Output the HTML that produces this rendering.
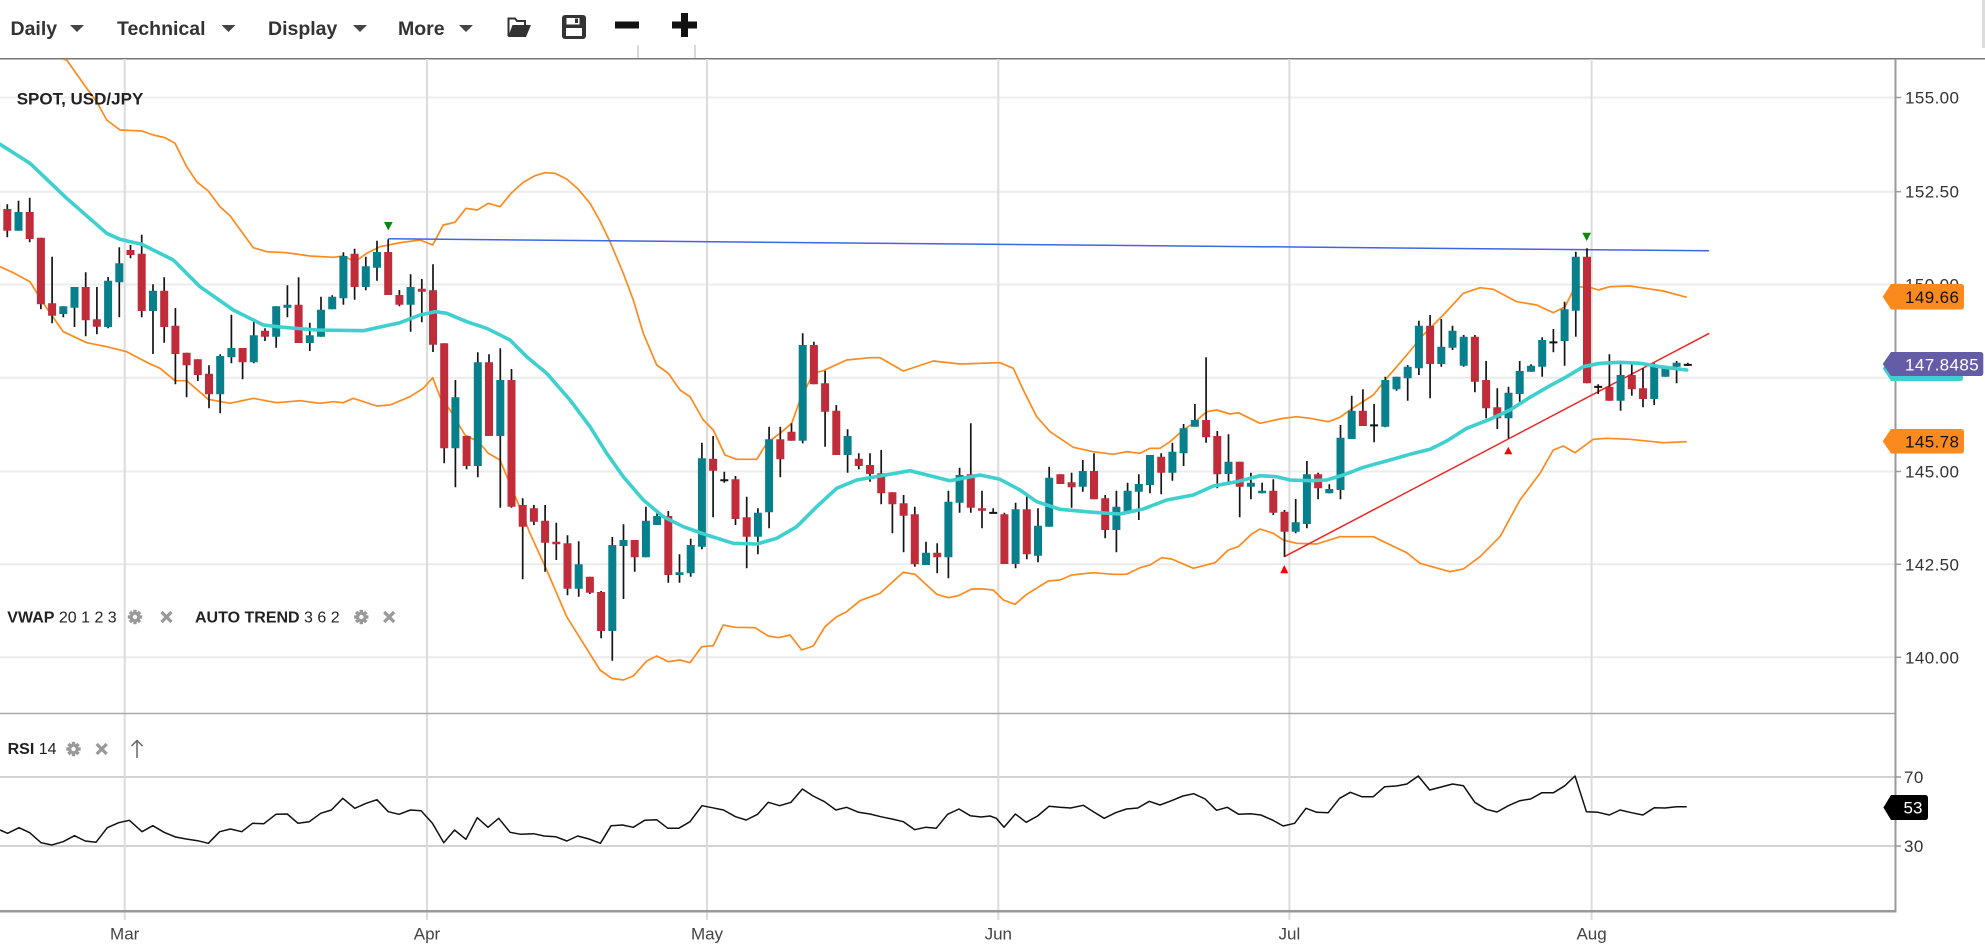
<!DOCTYPE html>
<html>
<head>
<meta charset="utf-8">
<style>
html,body{margin:0;padding:0;background:#fff;}
body{width:1985px;height:949px;overflow:hidden;}
svg{display:block;font-family:"Liberation Sans",Arial,sans-serif;}
</style>
</head>
<body>
<svg width="1985" height="949" viewBox="0 0 1985 949" xmlns="http://www.w3.org/2000/svg">
<defs>
<clipPath id="cm"><rect x="0" y="59" width="1895" height="654"/></clipPath>
<clipPath id="cr"><rect x="0" y="714" width="1895" height="197"/></clipPath>
<g id="gear">
<circle r="5.2" fill="#999"/>
<rect x="-1.7" y="-7.2" width="3.4" height="14.4" fill="#999"/>
<rect x="-1.7" y="-7.2" width="3.4" height="14.4" fill="#999" transform="rotate(45)"/>
<rect x="-1.7" y="-7.2" width="3.4" height="14.4" fill="#999" transform="rotate(90)"/>
<rect x="-1.7" y="-7.2" width="3.4" height="14.4" fill="#999" transform="rotate(135)"/>
<circle r="2.2" fill="#fff"/>
</g>
<g id="xx"><path d="M-5,-5L5,5M5,-5L-5,5" stroke="#999" stroke-width="3.2"/></g>
</defs>

<!-- toolbar -->
<g font-weight="bold" font-size="19.5" fill="#333">
<text x="10.5" y="35">Daily</text>
<text x="117" y="35">Technical</text>
<text x="268" y="35">Display</text>
<text x="398" y="35">More</text>
</g>
<g fill="#444">
<polygon points="70,25 84,25 77,32"/>
<polygon points="221.5,25 235.5,25 228.5,32"/>
<polygon points="353,25 367,25 360,32"/>
<polygon points="459,25 473,25 466,32"/>
</g>
<!-- folder -->
<path d="M508.5,36 V18.5 h6.5 l2,2.5 h8 v4" fill="none" stroke="#333" stroke-width="2"/>
<polygon points="512.5,25 531,25 526,37 508,37" fill="#333"/>
<!-- save -->
<rect x="562" y="15" width="24" height="24" rx="3" fill="#333"/>
<rect x="566.5" y="18" width="13" height="6.5" fill="#fff"/>
<rect x="575" y="18.5" width="3" height="4.5" fill="#333"/>
<rect x="566" y="28" width="16" height="8" fill="#fff"/>
<!-- minus / plus -->
<rect x="615" y="21.5" width="24" height="7" fill="#111"/>
<rect x="672" y="21.5" width="25" height="7" fill="#111"/>
<rect x="681" y="13" width="7" height="24" fill="#111"/>
<path d="M638,45V58M695,45V58" stroke="#ccc" stroke-width="1.5"/>
<rect x="1982" y="0" width="3" height="48" fill="#ddd"/>

<!-- frame -->
<line x1="0" y1="58.8" x2="1985" y2="58.8" stroke="#777" stroke-width="1.5"/>

<!-- horizontal grid main -->
<g stroke="#ececec" stroke-width="2">
<line x1="0" y1="97.5" x2="1895" y2="97.5"/>
<line x1="0" y1="191.7" x2="1895" y2="191.7"/>
<line x1="0" y1="284.5" x2="1895" y2="284.5"/>
<line x1="0" y1="377.7" x2="1895" y2="377.7"/>
<line x1="0" y1="471.5" x2="1895" y2="471.5"/>
<line x1="0" y1="564.3" x2="1895" y2="564.3"/>
<line x1="0" y1="657.3" x2="1895" y2="657.3"/>
</g>
<!-- RSI grid -->
<g stroke="#d2d2d2" stroke-width="2">
<line x1="0" y1="777" x2="1895" y2="777"/>
<line x1="0" y1="846" x2="1895" y2="846"/>
</g>
<!-- vertical grid -->
<g stroke="#dcdcdc" stroke-width="2">
<line x1="124.7" y1="59" x2="124.7" y2="920"/>
<line x1="427" y1="59" x2="427" y2="920"/>
<line x1="707" y1="59" x2="707" y2="920"/>
<line x1="998.3" y1="59" x2="998.3" y2="920"/>
<line x1="1289.4" y1="59" x2="1289.4" y2="920"/>
<line x1="1591.6" y1="59" x2="1591.6" y2="920"/>
</g>

<!-- main pane series -->
<g clip-path="url(#cm)">
<!-- bollinger upper -->
<polyline fill="none" stroke="#ff8a1c" stroke-width="1.7" stroke-linejoin="round" points="58,45 63,59 66.7,60 86.7,88.3 96.7,101.7 106.7,120 120,130 141.7,131 153.3,135 165,137.7 175,143.3 186.7,166.7 196.7,181.7 208.3,191 220,206.7 230,215.7 253.3,247.7 266.7,251.7 286.7,252.7 310,256 333.3,257.3 343.3,256 355,261.7 366.7,253.3 380,246.7 400,242.7 420,240 432.7,245 443.3,225 455,222.3 466,208.3 477.3,210 488.3,203.3 500,206.7 511.7,192.7 523.3,182.3 535,175.7 545,172.7 555,173.3 566.7,179 578.3,189.3 590,203.3 600,221 610,241.7 623.3,273.3 633.3,300 643.3,333.3 656.7,365 668.3,373.3 680,390 690,396.7 703.3,420 713.3,430 725,455 736.7,459.3 756.7,459.3 766.7,443.3 780,433.3 791.7,423.3 800,400 813.3,373.3 823.3,370.7 846.7,360 870,357.7 880,357.7 903.3,371 933.3,361 960,364 1000,362.7 1013.3,368.3 1023.3,390 1036.7,416.7 1050,431.7 1060,438.3 1073.3,447.3 1093.3,451.7 1113.3,454.3 1126.7,451.7 1140,453.3 1150,448.3 1160,448.3 1170,441.7 1183.3,430 1193.3,423.3 1206.7,411.7 1216.7,410 1230,414 1238.3,412.7 1260,423.3 1283.3,418.3 1296.7,416.7 1310,418.3 1328.3,421.7 1340,417.3 1350,410 1373.3,395 1386.7,378.3 1406.7,355 1423.3,335 1443.3,315 1463.3,293.3 1480,287.7 1493.3,289.3 1516.7,301.7 1536.7,305 1553.3,312.7 1565,306.7 1575,286.7 1590,287.3 1598.3,290 1610,286.7 1630,286 1663.3,291 1686.7,297.3"/>
<!-- bollinger lower -->
<polyline fill="none" stroke="#ff8a1c" stroke-width="1.7" stroke-linejoin="round" points="0,266.7 13.3,272.7 30,281.7 43.3,303.3 63.3,331.7 86.7,342.7 106.7,346.7 126.7,351.7 146.7,362.3 160,368.3 175,380.7 186.7,380.7 208.3,399.3 230,403.3 253.3,398.3 276.7,402.7 300,400.7 320,403.3 333.3,401.7 343.3,402.7 353.3,398.3 376.7,406 390,405 410,396.7 423.3,388.3 432.7,377.7 440,396.7 450,410 465,435 478.3,441.7 488.3,453.3 500,460 516.7,500 530,533.3 546.7,570 566.7,616.7 583.3,643.3 600,670 611.7,678.3 623.3,680 633.3,676 646.7,661 656.7,656 668.3,661.7 680,660 690,662.7 701.7,646.7 713.3,645.7 723.3,625 735,627.3 755,627.7 768.3,636 778.3,637.7 790,635 801.7,650 813.3,646 825,626.7 836.7,616.7 846.7,611.7 860,600.7 880,593.3 903.3,572.3 915,574.3 936.7,594.3 948.3,597.7 958.3,595.7 971.7,589 983.3,589 993.3,590 1003.3,600 1015,604.3 1026.7,594.3 1048.3,581 1060,580 1071.7,575 1093.3,572.7 1113.3,574.3 1126.7,574.3 1140,567.7 1150,565 1161.7,557.7 1171.7,559 1193.3,568.3 1215,562.7 1228.3,550 1238.3,546.7 1251.7,534 1260,529 1273.3,533.3 1283.3,540 1296.7,543.3 1316.7,544 1340,536.7 1373.3,536.7 1406.7,552.7 1420,563.3 1450,571.7 1463.3,569 1480,556.7 1500,536.7 1520,500 1540,473.3 1553.3,450 1563.3,446 1575,452.7 1593.3,439.3 1606.7,438.3 1630,439.3 1663.3,442.7 1686.7,441.7"/>
<!-- trend lines -->
<line x1="388.3" y1="238.8" x2="1709" y2="250.8" stroke="#3f66de" stroke-width="1.5"/>
<line x1="1284.3" y1="556.7" x2="1709.3" y2="333.3" stroke="#ee2424" stroke-width="1.5"/>

<!-- wicks -->
<path fill="none" stroke="#151515" stroke-width="1.7" d="M-3.9 198V215M7.3 204.3V237.3M18.5 200.7V230.7M29.7 197.7V242.3M40.9 237.7V309.3M52.1 256.7V323.3M63.3 306.3V317.3M74.5 287V327M85.7 272.3V336.3M96.9 287V334.3M108.1 277V328.3M119.3 247.3V317.3M130.5 245V258.3M141.7 234.7V317.3M153 284.3V354M164.2 277.3V342.7M175.4 308V384.3M186.6 352.7V397.3M197.8 359.3V381M209 365.3V408.3M220.2 354.3V413.3M231.4 314.7V363.3M242.6 348V379.3M253.8 321V363.3M265 328.3V341M276.2 306.3V347.7M287.4 285.3V317.3M298.6 277.3V343M309.8 322.7V351M321 296.7V336.7M332.2 295.3V309.3M343.4 252.3V304.7M354.6 248.7V299.7M365.8 256.7V290.3M377 240.7V280.7M388.2 239.3V295M399.4 290V306.3M410.6 274.3V331.7M421.8 279V322.3M433 264.3V352M444.2 343.3V463.3M455.4 380V487.3M466.6 436V469.3M477.8 352.3V477.3M489 354.3V436M500.3 348.3V507.7M511.5 369V507.7M522.7 498.3V579.3M533.9 505V525M545.1 505V571.7M556.3 522.7V560M567.5 535.3V595.3M578.7 541.3V596.7M589.9 576.7V594M601.1 591V638.3M612.3 537V660.7M623.5 524.3V599M634.7 540V571.7M645.9 506.7V557.3M657.1 512.7V525M668.3 511V582.7M679.5 554.3V582.7M690.7 538.7V576.7M701.9 442.7V549.3M713.1 436V517.3M724.3 471.7V482.7M735.5 476V525M746.7 496.7V568.3M757.9 508.3V554.3M769.1 426.7V528.3M780.3 426.7V477.3M791.5 423.3V440.7M802.7 333.3V443.3M813.9 341.7V384.3M825.1 370.7V446.7M836.3 405V455M847.6 429.3V472.7M858.8 453.3V469.3M870 453.3V481.7M881.2 450V504.3M892.4 492.3V533.3M903.6 495V552.3M914.8 506.7V566.7M926 541.7V565M937.2 543.3V573.3M948.4 490.7V578.3M959.6 467.7V512.7M970.8 423.3V512.7M982 490.7V528.3M993.2 508.3V513.5M1004.4 512.7V564M1015.6 502.7V568.3M1026.8 495.7V559.3M1038 508.3V562.3M1049.2 466.7V526.7M1060.4 474.3V484M1071.6 472.7V507.7M1082.8 460V491.7M1094 453.3V499.3M1105.2 495V538.3M1116.4 490.7V552.3M1127.6 482.7V511.7M1138.8 474.3V520M1150 455V493.3M1161.2 453.3V494.3M1172.4 442.7V480.7M1183.6 424V466M1194.9 404V426.7M1206.1 357.3V442.7M1217.3 431V488.3M1228.5 434.3V485M1239.7 461.7V517.3M1250.9 472.7V499.3M1262.1 482.7V493.3M1273.3 479.3V515M1284.5 510V556.7M1295.7 499V533.3M1306.9 461V528.3M1318.1 472.7V499.3M1329.3 484.3V493.3M1340.5 425V499.3M1351.7 395.7V439M1362.9 389.3V426M1374.1 404V442.3M1385.3 376.7V427.3M1396.5 376.7V390.7M1407.7 365V400.7M1418.9 320.7V375M1430.1 315V398.3M1441.3 319V366.7M1452.5 325.7V350M1463.7 335V366.7M1474.9 335V392.3M1486.1 361V418.3M1497.3 388.3V429M1508.5 386.7V438.3M1519.7 361V401.7M1531 364.3V371.7M1542.2 337.3V376.7M1553.4 329V352.3M1564.6 301.7V365.7M1575.8 251.7V336.7M1587 248.3V383.3M1598.2 384.3V394M1609.4 354.3V400.7M1620.6 364.3V410.7M1631.8 364.3V395.7M1643 368.3V407.3M1654.2 363.3V405M1665.4 365.7V376.7M1676.6 361V383.3M1687.8 362.7V366"/>

<!-- red bodies -->
<path fill="#c12c3a" d="M-7.9 202h8v10h-8zM3.3 209h8v21.7h-8zM25.7 212h8v27h-8zM36.9 237.7h8v66.6h-8zM48.1 303.3h8v12.4h-8zM81.7 287h8v33.3h-8zM92.9 319.3h8v7.4h-8zM126.5 250h8v5h-8zM137.7 253.7h8v57.3h-8zM160.2 290.7h8v36.3h-8zM171.4 325.7h8v28.3h-8zM182.6 352.7h8v12.6h-8zM193.8 359.3h8v15.7h-8zM205 373.7h8v20.6h-8zM238.6 348h8v14.3h-8zM261 330.7h8v6h-8zM294.6 304.7h8v38.3h-8zM350.6 253.7h8v33.3h-8zM384.2 252h8v43h-8zM395.4 295h8v9.7h-8zM417.8 288.7h8v3h-8zM429 290.3h8v54.4h-8zM440.2 343.3h8v105h-8zM462.6 436h8v30h-8zM485 362.3h8v73.7h-8zM507.5 380h8v126.7h-8zM518.7 505h8v21.7h-8zM529.9 508.3h8v13.4h-8zM541.1 520.7h8v22h-8zM552.3 541.7h8v2.6h-8zM563.5 543.3h8v45.4h-8zM585.9 576.7h8v16h-8zM597.1 592h8v39h-8zM630.7 540h8v17.3h-8zM664.3 516h8v59h-8zM709.1 458.7h8v12h-8zM731.5 479.3h8v39.7h-8zM742.7 517.3h8v19.4h-8zM776.3 439.3h8v20h-8zM787.5 431.7h8v9h-8zM809.9 345h8v39.3h-8zM821.1 383.3h8v28.4h-8zM832.3 410.7h8v44.3h-8zM854.8 458.7h8v7.3h-8zM866 465h8v9h-8zM877.2 473.3h8v20h-8zM888.4 492.3h8v12h-8zM899.6 503.3h8v12.4h-8zM910.8 514.3h8v50h-8zM933.2 552.7h8v4.6h-8zM966.8 474.3h8v33.4h-8zM978 508.3h8v2.4h-8zM1000.4 514.3h8v49.7h-8zM1022.8 509.3h8v45h-8zM1056.4 474.3h8v9.7h-8zM1067.6 482.3h8v5h-8zM1090 471h8v28.3h-8zM1101.2 498.3h8v31.7h-8zM1157.2 456.7h8v16h-8zM1202.1 420h8v17.3h-8zM1213.3 436h8v38.3h-8zM1235.7 461.7h8v25h-8zM1269.3 490.7h8v22h-8zM1280.5 511.7h8v20h-8zM1314.1 474.3h8v14h-8zM1358.9 410.7h8v15.3h-8zM1426.1 325.7h8v38.3h-8zM1470.9 336.7h8v45h-8zM1482.1 380h8v28.3h-8zM1493.3 407.3h8v11h-8zM1583 256.7h8v126.6h-8zM1605.4 386.7h8v14h-8zM1627.8 375h8v14.3h-8zM1639 388.3h8v10.7h-8z"/>
<!-- teal bodies -->
<path fill="#08808c" d="M14.5 212h8v18.7h-8zM59.3 306.3h8v7.7h-8zM70.5 287h8v20.7h-8zM104.1 280.7h8v46.3h-8zM115.3 263.3h8v19h-8zM149 290.7h8v20.3h-8zM216.2 356h8v38.3h-8zM227.4 348h8v9.3h-8zM249.8 335.3h8v27h-8zM272.2 306.3h8v30.4h-8zM283.4 304.7h8v3h-8zM305.8 335.3h8v7.7h-8zM317 309.7h8v27h-8zM328.2 296.7h8v12.6h-8zM339.4 256h8v42.3h-8zM361.8 266.3h8v20.7h-8zM373 252h8v15.7h-8zM406.6 287h8v17.7h-8zM451.4 397.3h8v51h-8zM473.8 362.3h8v103.7h-8zM496.3 380h8v56h-8zM574.7 564.3h8v24.4h-8zM608.3 545h8v86h-8zM619.5 540h8v6h-8zM641.9 520.7h8v36.6h-8zM653.1 516h8v9h-8zM675.5 572.3h8v2.7h-8zM686.7 545h8v28.3h-8zM697.9 458.3h8v88.4h-8zM753.9 512.7h8v24h-8zM765.1 439.3h8v73h-8zM798.7 345h8v95.7h-8zM843.6 436h8v19h-8zM922 552.7h8v12.3h-8zM944.4 501.7h8v55.6h-8zM955.6 475h8v27.7h-8zM1011.6 509.3h8v54.7h-8zM1034 525.7h8v30h-8zM1045.2 477.7h8v49h-8zM1078.8 471h8v15.7h-8zM1112.4 506.7h8v23.3h-8zM1123.6 490.7h8v21h-8zM1134.8 484h8v7.7h-8zM1146 455h8v30h-8zM1168.4 451.7h8v21h-8zM1179.6 428.3h8v25h-8zM1190.9 420h8v6.7h-8zM1224.5 461.7h8v12.3h-8zM1246.9 482.7h8v4h-8zM1258.1 490.7h8v2.6h-8zM1291.7 522.3h8v9.4h-8zM1302.9 474.3h8v49.7h-8zM1325.3 489h8v4.3h-8zM1336.5 437.7h8v52.3h-8zM1347.7 410.7h8v28.3h-8zM1381.3 380h8v46.7h-8zM1392.5 376.7h8v12.6h-8zM1403.7 366.7h8v11.6h-8zM1414.9 325.7h8v42.6h-8zM1437.3 346.7h8v17.3h-8zM1448.5 330.7h8v17h-8zM1459.7 336.7h8v29h-8zM1504.5 392.7h8v25.6h-8zM1515.7 371h8v23h-8zM1527 365.7h8v6h-8zM1538.2 340h8v26.7h-8zM1560.6 309.3h8v31.7h-8zM1571.8 256.7h8v54h-8zM1616.6 375h8v25.7h-8zM1650.2 366.7h8v32.3h-8zM1661.4 368.3h8v8.4h-8zM1672.6 362.7h8v4h-8z"/>
<!-- doji -->
<path fill="#151515" d="M720.3 479.2h8v2h-8zM989.2 511.9h8v2h-8zM1370.1 424.4h8v2h-8zM1549.4 341.4h8v2h-8zM1594.2 385.9h8v2h-8zM1683.8 363.9h8v2h-8z"/>

<!-- moving average -->
<polyline fill="none" stroke="#3ecfcf" stroke-width="3.6" stroke-linejoin="round" stroke-linecap="round" points="0,144.3 30,163.3 66.7,198.3 106.7,233.3 120,239.3 141.7,244.3 163.3,255 173.3,260 200,286.7 233.3,310 263.3,325 283.3,327.3 316.7,330 363.3,330.7 400,322.7 420,315 435,311.7 446.7,313.3 466.7,321.7 486.7,328.3 510,340 526.7,356.7 546.7,373.3 570,400 590,426.7 606.7,453.3 623.3,476.7 643.3,500 663.3,516.7 683.3,526.7 706.7,535 733.3,543.3 756.7,544 776.7,538.3 796.7,526.7 816.7,506.7 836.7,488.3 856.7,480 880,476 910,470.7 950,480.7 980,475 1000,479.3 1020,490 1036.7,501.7 1060,509.3 1093.3,512.3 1120,514 1143.3,509 1166.7,500 1193.3,495 1213.3,486 1236.7,481.7 1260,475.7 1276.7,476.7 1290,480 1310,480.7 1326.7,480 1343.3,475 1363.3,467.3 1390,460 1410,454.3 1430,449.3 1446.7,441 1466.7,428.3 1490,419.3 1510,410 1530,397.3 1550,385.7 1566.7,376.7 1583.3,366.7 1600,363.3 1620,362.3 1640,363.3 1660,366.7 1673.3,368.3 1686.7,370"/>

<!-- markers -->
<polygon points="384,222 392.7,222 388.3,230.5" fill="#0a8a0a"/>
<polygon points="1582.3,232.7 1591,232.7 1586.7,241" fill="#0a8a0a"/>
<polygon points="1280.3,573.3 1288.3,573.3 1284.3,565" fill="#ff0000"/>
<polygon points="1504.3,454.3 1512.3,454.3 1508.3,446.7" fill="#ff0000"/>
</g>

<!-- labels in main pane -->
<text x="16.7" y="104.5" font-size="17" font-weight="bold" fill="#222">SPOT, USD/JPY</text>
<text x="7.3" y="622.5" font-size="16" fill="#222"><tspan font-weight="bold">VWAP</tspan> 20 1 2 3</text>
<use href="#gear" x="135" y="617"/>
<use href="#xx" x="166.5" y="617"/>
<text x="195" y="622.5" font-size="16" fill="#222"><tspan font-weight="bold">AUTO TREND</tspan> 3 6 2</text>
<use href="#gear" x="361.3" y="617"/>
<use href="#xx" x="389.2" y="617"/>

<!-- pane separators and axes -->
<line x1="0" y1="713.5" x2="1895" y2="713.5" stroke="#aaa" stroke-width="1.5"/>
<line x1="0" y1="911.2" x2="1896.5" y2="911.2" stroke="#999" stroke-width="2.5"/>
<line x1="1895.5" y1="59" x2="1895.5" y2="912" stroke="#999" stroke-width="2"/>
<g stroke="#999" stroke-width="1.5">
<line x1="1895" y1="97.5" x2="1901" y2="97.5"/>
<line x1="1895" y1="191.7" x2="1901" y2="191.7"/>
<line x1="1895" y1="284.5" x2="1901" y2="284.5"/>
<line x1="1895" y1="377.7" x2="1901" y2="377.7"/>
<line x1="1895" y1="471.5" x2="1901" y2="471.5"/>
<line x1="1895" y1="564.3" x2="1901" y2="564.3"/>
<line x1="1895" y1="657.3" x2="1901" y2="657.3"/>
<line x1="1895" y1="777" x2="1901" y2="777"/>
<line x1="1895" y1="846" x2="1901" y2="846"/>
</g>

<!-- RSI -->
<g clip-path="url(#cr)">
<polyline fill="none" stroke="#111" stroke-width="1.5" stroke-linejoin="round" points="0,830 7.6,833.3 19,827.7 29.7,832.7 41,842.7 51.8,845 63.1,841.7 74.5,835.7 85.2,841 96,842.3 107.3,827.7 118.7,822.7 129.4,820.3 142,831.7 152.8,825.7 164.1,832.3 175.5,837 186.2,839 197.6,840.7 208.3,843.3 219.7,831.7 230.4,829 241.8,831.7 252.5,823.3 263.9,823.7 275.9,814.3 287.2,814 298,823.3 309.3,821.7 320.7,813.3 331.4,810 342.8,798.3 354.8,808.3 366.2,803.3 376.9,799.7 388.3,811.7 399,814.3 410.4,810 421.1,810.7 432.4,823.3 443.8,842.7 454.5,830 465.9,839.3 477.3,817.7 488,827.3 498.7,818.3 510.1,832.3 520.8,834.3 533.5,833.7 544.2,836 555.6,836.7 566.9,841 577.7,836 589,839 600.4,843.3 611.1,825.7 622.5,825 633.2,827.3 644.6,820.3 656.6,819.7 667.9,828.3 678.7,828.3 690,821.7 702,805.7 712.1,807.7 723.5,810 735.5,816.7 746.2,820 757.6,814.3 768.3,802.3 779.7,805.7 791,802.3 802.4,789 813.1,796 824.5,801.7 835.9,810 846.6,807.3 858.6,812.3 870,814 880.7,816.7 892,819 903.4,821.7 914.8,829.7 925.5,827.3 936.2,828.3 947.6,814.3 959,809 970.3,815.7 981,817 990,816 996.3,818.3 1004,827.3 1015.4,814 1026.2,822.3 1037.6,816 1049,806.3 1059.8,807.3 1070.6,808 1083.3,805.3 1093.4,811.7 1104.2,818.3 1115.6,812.7 1126.4,809 1137.8,808 1149.3,801.3 1160,805 1171.5,800.7 1182.9,796 1193.7,793.7 1205.1,799 1216.5,810.3 1227.3,807.3 1238.7,814.3 1250.2,813.7 1260.9,815 1272.4,820 1283.1,826 1294.6,823.3 1306,808.3 1316.8,812.3 1328.2,812.7 1339.6,798.3 1350.4,792.3 1361.8,796.7 1373.3,796.7 1384.7,786.7 1396.1,786 1406.9,784 1418.3,776 1429.7,790 1441.2,787 1452.6,784 1463.4,785.7 1474.8,802.3 1486.2,809.3 1497,812 1508.4,805.7 1519.8,800.7 1530.6,799 1542,792.7 1553.5,792.7 1564.9,785.7 1575,776 1586.4,811.7 1597.9,812.3 1609.3,815 1620.1,810 1631.5,812.7 1642.9,815 1654.3,807.7 1665.1,808 1676.5,806.7 1686.7,806.7"/>
</g>
<text x="7.6" y="754" font-size="16" fill="#222"><tspan font-weight="bold">RSI</tspan> 14</text>
<use href="#gear" x="73.5" y="749"/>
<use href="#xx" x="101.7" y="749"/>
<path d="M137,758V740.5M131.5,746L137,740.5L142.5,746" fill="none" stroke="#666" stroke-width="1.5"/>

<!-- price axis labels -->
<g font-size="17" fill="#333" letter-spacing="0.4">
<text x="1905" y="103.5">155.00</text>
<text x="1905" y="197.7">152.50</text>
<text x="1905" y="290.5">150.00</text>
<text x="1905" y="477.5">145.00</text>
<text x="1905" y="570.3">142.50</text>
<text x="1905" y="663.3">140.00</text>
<text x="1904" y="783">70</text>
<text x="1904" y="852">30</text>
</g>

<!-- tags -->
<path d="M1882.7,296.8 L1891,284 H1961 q3,0 3,3 V306.5 q0,3 -3,3 H1891 Z" fill="#fb8a1e"/>
<text x="1905" y="303" font-size="17" fill="#111" letter-spacing="0.4">149.66</text>
<path d="M1882.7,368.5 L1891,356 H1960 q3,0 3,3 V378 q0,3 -3,3 H1891 Z" fill="#3ecfcf"/>
<path d="M1882.7,364 L1891,352 H1980.3 q3,0 3,3 V373 q0,3 -3,3 H1891 Z" fill="#655ca8"/>
<text x="1905" y="370.5" font-size="17" fill="#fff" letter-spacing="0.4">147.8485</text>
<path d="M1882.7,441.3 L1891,429 H1961 q3,0 3,3 V450.5 q0,3 -3,3 H1891 Z" fill="#fb8a1e"/>
<text x="1905" y="447.5" font-size="17" fill="#111" letter-spacing="0.4">145.78</text>
<path d="M1883.4,807.5 L1891,795 H1925 q3,0 3,3 V817 q0,3 -3,3 H1891 Z" fill="#000"/>
<text x="1903.5" y="813.5" font-size="17" fill="#fff">53</text>

<!-- x axis labels -->
<g font-size="17" fill="#444" text-anchor="middle">
<text x="124.7" y="939.5">Mar</text>
<text x="427" y="939.5">Apr</text>
<text x="707" y="939.5">May</text>
<text x="998.3" y="939.5">Jun</text>
<text x="1289.4" y="939.5">Jul</text>
<text x="1591.6" y="939.5">Aug</text>
</g>
</svg>
</body>
</html>
